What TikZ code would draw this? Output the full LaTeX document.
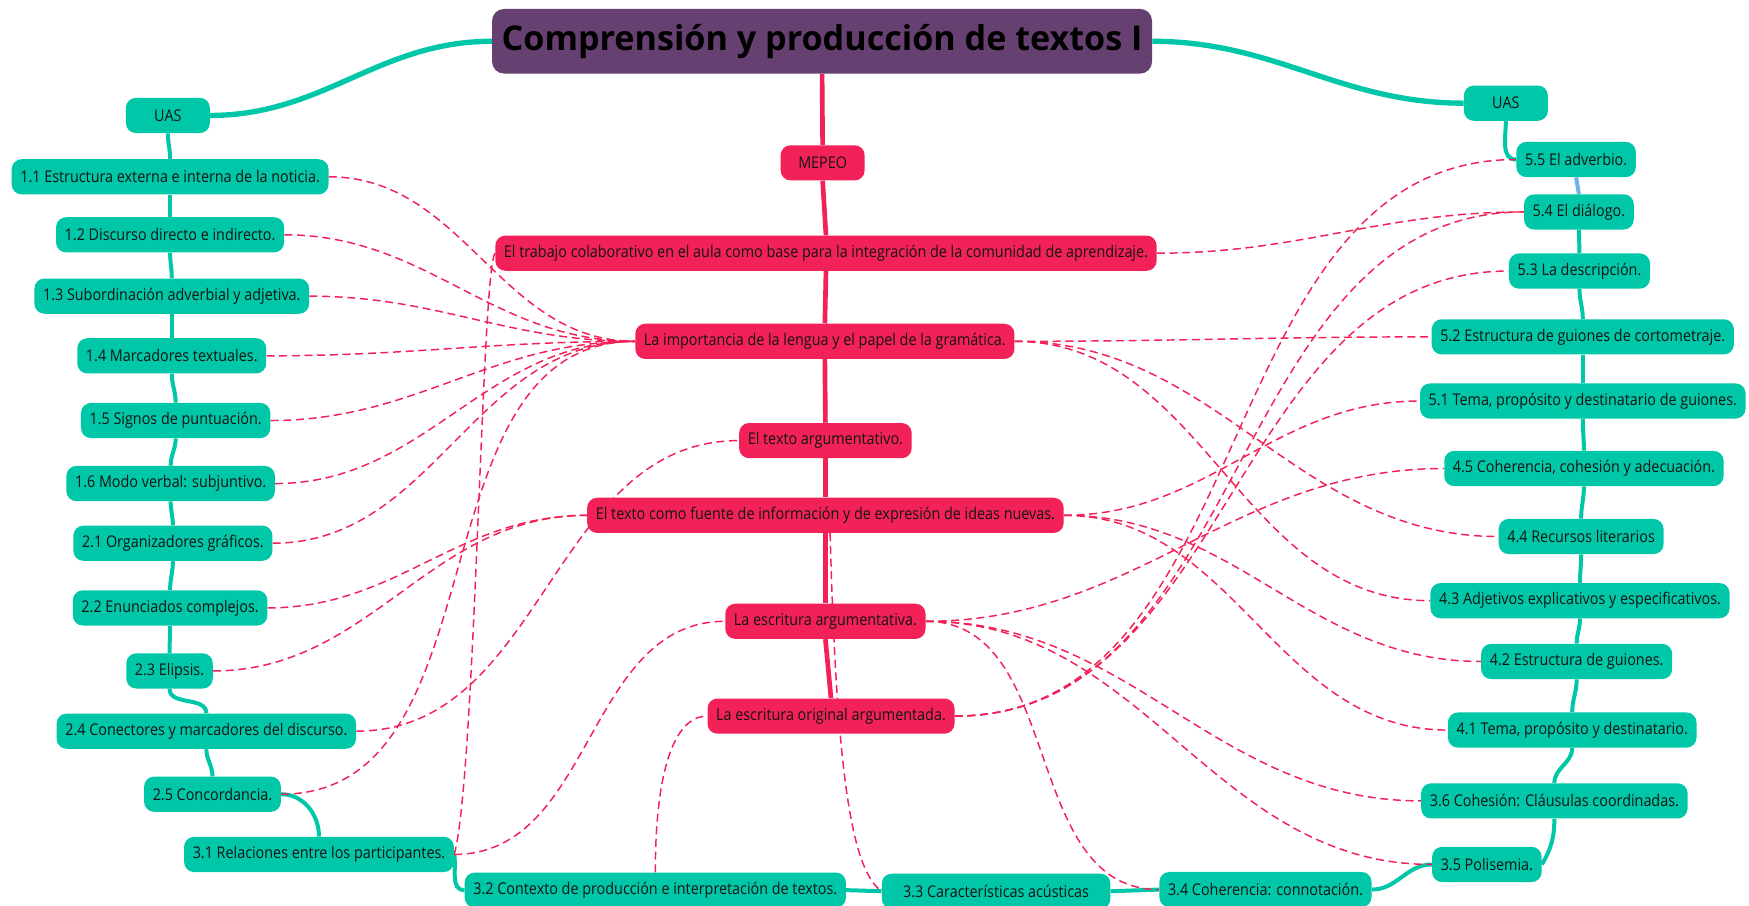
\documentclass[tikz,border=0pt]{standalone}
\usepackage{fontspec}
\setmainfont{Open Sans}[FakeStretch=0.89]
\newfontfamily\headfont{Open Sans}[FakeStretch=1.0]
\usetikzlibrary{backgrounds}
\definecolor{mmteal}{HTML}{00C7A7}
\definecolor{mmrose}{HTML}{F22157}
\definecolor{mmplum}{HTML}{664070}
\definecolor{mmsky}{HTML}{6BB3E6}
\definecolor{mmink}{HTML}{141414}
\begin{document}
\begin{tikzpicture}[x=0.8366pt,y=-0.8366pt,
  topic/.style={rounded corners=7.5pt,minimum height=26.4pt,minimum width=63pt,inner xsep=6.5pt,inner ysep=0pt,text=mmink,font=\fontsize{12.1}{14}\selectfont},
  uas/.style={topic,fill=mmteal},
  mep/.style={topic,fill=mmrose},
  relation/.style={draw=mmrose,line width=1.1pt,dash pattern=on 6pt off 3.5pt},
  branch/.style={draw=mmteal,line width=3pt},
  spine/.style={draw=mmrose,line width=3.5pt}]
\useasboundingbox (0,0) rectangle (1568,812);

\node[rounded corners=9pt,fill=mmplum,minimum width=495pt,minimum height=48.5pt,text=black,font=\headfont\bfseries\fontsize{25.6}{29}\selectfont] (0) at (737,37) {Comprensión y producción de textos I};

\node[mep] (m0) at (737.5,146) {MEPEO};
\node[mep] (m1) at (740.5,227) {El trabajo colaborativo en el aula como base para la integración de la comunidad de aprendizaje.};
\node[mep] (m2) at (739.5,306) {La importancia de la lengua y el papel de la gramática.};
\node[mep] (m3) at (740,395) {El texto argumentativo.};
\node[mep] (m4) at (740,462) {El texto como fuente de información y de expresión de ideas nuevas.};
\node[mep] (m5) at (740,557) {La escritura argumentativa.};
\node[mep] (m6) at (745,642) {La escritura original argumentada.};

\node[uas] (uL) at (150.5,103.5) {UAS};
\node[uas] (a11) at (152.5,158.5) {1.1 Estructura externa e interna de la noticia.};
\node[uas] (a12) at (152.5,210.5) {1.2 Discurso directo e indirecto.};
\node[uas] (a13) at (154,265.5) {1.3 Subordinación adverbial y adjetiva.};
\node[uas] (a14) at (154,319) {1.4 Marcadores textuales.};
\node[uas] (a15) at (157.5,377) {1.5 Signos de puntuación.};
\node[uas] (a16) at (153,433.5) {1.6 Modo verbal: subjuntivo.};
\node[uas] (a21) at (155,487) {2.1 Organizadores gráficos.};
\node[uas] (a22) at (152.5,545) {2.2 Enunciados complejos.};
\node[uas] (a23) at (152,601.5) {2.3 Elipsis.};
\node[uas] (a24) at (185,655.5) {2.4 Conectores y marcadores del discurso.};
\node[uas] (a25) at (190.5,712) {2.5 Concordancia.};
\node[uas] (a31) at (286,766) {3.1 Relaciones entre los participantes.};
\node[uas] (a32) at (587.5,798) {3.2 Contexto de producción e interpretación de textos.};
\node[uas,minimum width=171.5pt] (a33) at (893,799) {3.3 Características acústicas};
\node[uas] (a34) at (1134.5,797.5) {3.4 Coherencia: connotación.};
\node[uas] (a35) at (1333,775) {3.5 Polisemia.};
\node[uas] (a36) at (1393.5,718) {3.6 Cohesión: Cláusulas coordinadas.};
\node[uas] (a41) at (1409.5,654.5) {4.1 Tema, propósito y destinatario.};
\node[uas] (a42) at (1413.5,593) {4.2 Estructura de guiones.};
\node[uas] (a43) at (1416.5,538.5) {4.3 Adjetivos explicativos y especificativos.};
\node[uas] (a44) at (1417.5,481) {4.4 Recursos literarios};
\node[uas] (a45) at (1420,420) {4.5 Coherencia, cohesión y adecuación.};
\node[uas] (a51) at (1419,359.5) {5.1 Tema, propósito y destinatario de guiones.};
\node[uas] (a52) at (1419,302) {5.2 Estructura de guiones de cortometraje.};
\node[uas] (a53) at (1416,243) {5.3 La descripción.};
\node[uas] (a54) at (1415.5,190) {5.4 El diálogo.};
\node[uas] (a55) at (1413,143) {5.5 El adverbio.};
\node[uas] (uR) at (1350,92.5) {UAS};

\begin{scope}[on background layer]
\path[draw=mmteal,line width=4pt] (0.west) to[out=180,in=0] (uL.east);
\path[draw=mmteal,line width=4pt] (0.east) to[out=0,in=180] (uR.west);

\path[spine] (0.south) -- (m0.north);
\path[spine] (m0.south) -- (m1.north);
\path[spine] (m1.south) -- (m2.north);
\path[spine] (m2.south) -- (m3.north);
\path[spine] (m3.south) -- (m4.north);
\path[spine] (m4.south) -- (m5.north);
\path[spine] (m5.south) -- (m6.north);

\path[branch] (uL.south) to[out=-90,in=90] (a11.north);
\path[branch] (a11.south) to[out=-90,in=90] (a12.north);
\path[branch] (a12.south) to[out=-90,in=90] (a13.north);
\path[branch] (a13.south) to[out=-90,in=90] (a14.north);
\path[branch] (a14.south) to[out=-90,in=90] (a15.north);
\path[branch] (a15.south) to[out=-90,in=90] (a16.north);
\path[branch] (a16.south) to[out=-90,in=90] (a21.north);
\path[branch] (a21.south) to[out=-90,in=90] (a22.north);
\path[branch] (a22.south) to[out=-90,in=90] (a23.north);
\path[branch] (a23.south) to[out=-90,in=90] (a24.north);
\path[branch] (a24.south) to[out=-90,in=90] (a25.north);
\path[branch] (a25.east) to[out=0,in=90] (a31.north);
\path[branch] (a31.east) to[out=-80,in=180] (a32.west);
\path[branch] (a32.east) -- (a33.west);
\path[branch] (a33.east) -- (a34.west);
\path[branch] (a34.east) to[out=0,in=180] (a35.west);
\path[branch] (a35.east) to[out=60,in=-90] (a36.south);
\path[branch] (a36.north) to[out=90,in=-90] (a41.south);
\path[branch] (a41.north) to[out=90,in=-90] (a42.south);
\path[branch] (a42.north) to[out=90,in=-90] (a43.south);
\path[branch] (a43.north) to[out=90,in=-90] (a44.south);
\path[branch] (a44.north) to[out=90,in=-90] (a45.south);
\path[branch] (a45.north) to[out=90,in=-90] (a51.south);
\path[branch] (a51.north) to[out=90,in=-90] (a52.south);
\path[branch] (a52.north) to[out=90,in=-90] (a53.south);
\path[branch] (a53.north) to[out=90,in=-90] (a54.south);
\path[branch,draw=mmsky] (a54.north) -- (a55.south);
\path[branch] (uR.south) to[out=-90,in=180] (a55.west);

\path[relation] (a11.east) to[out=0,in=180] (m2.west);
\path[relation] (a12.east) to[out=0,in=180] (m2.west);
\path[relation] (a13.east) to[out=0,in=180] (m2.west);
\path[relation] (a14.east) to[out=0,in=180] (m2.west);
\path[relation] (a15.east) to[out=0,in=180] (m2.west);
\path[relation] (a16.east) to[out=0,in=180] (m2.west);
\path[relation] (a21.east) to[out=0,in=180] (m2.west);
\path[relation] (a25.east) to[out=0,in=180] (m2.west);
\path[relation] (a22.east) to[out=0,in=180] (m4.west);
\path[relation] (a23.east) to[out=0,in=180] (m4.west);
\path[relation] (a24.east) to[out=0,in=180] (m3.west);
\path[relation] (a31.east) .. controls +(19,-66) and +(-12,13) .. (m1.west);
\path[relation] (a31.east) to[out=0,in=180] (m5.west);
\path[relation] (a32.north) .. controls +(0,-90) and +(-30,0) .. (m6.west);
\path[relation] ([xshift=3.5pt]m4.south) .. controls +(6,222) and +(-26,-19) .. (a33.west);

\path[relation] (m1.east) to[out=0,in=180] (a54.west);
\path[relation] (m2.east) to[out=0,in=180] (a52.west);
\path[relation] (m2.east) to[out=0,in=180] (a44.west);
\path[relation] (m2.east) to[out=0,in=180] (a43.west);
\path[relation] (m4.east) to[out=0,in=180] (a51.west);
\path[relation] (m4.east) to[out=0,in=180] (a42.west);
\path[relation] (m4.east) to[out=0,in=180] (a41.west);
\path[relation] (m5.east) to[out=0,in=180] (a45.west);
\path[relation] (m5.east) to[out=0,in=180] (a36.west);
\path[relation] (m5.east) to[out=0,in=180] (a35.west);
\path[relation] (m5.east) to[out=0,in=180] (a34.west);
\path[relation] (m6.east) to[out=0,in=180] (a55.west);
\path[relation] (m6.east) to[out=0,in=180] (a54.west);
\path[relation] (m6.east) to[out=0,in=180] (a53.west);
\end{scope}
\end{tikzpicture}
\end{document}
